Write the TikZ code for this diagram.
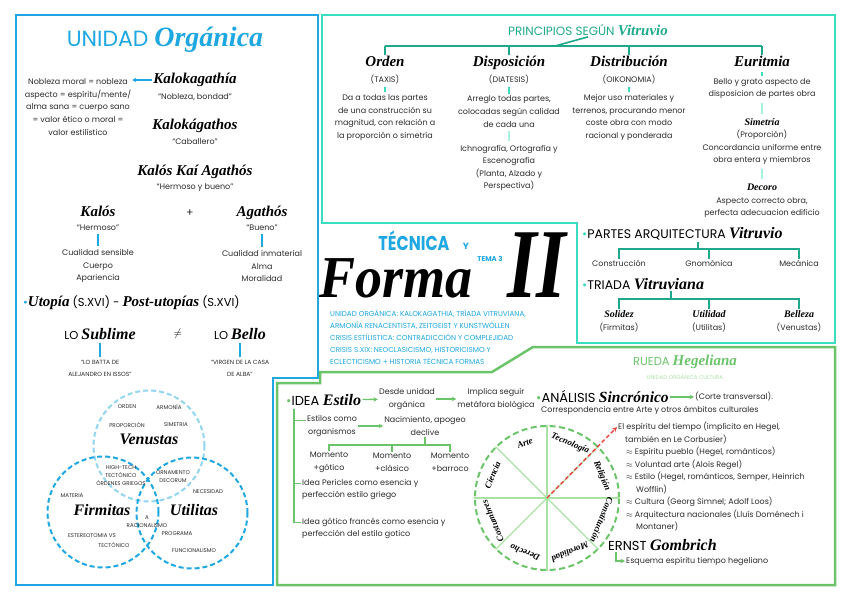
\documentclass[tikz,border=0pt]{standalone}
\usepackage{fontspec}
\setmainfont{Poppins}
\newfontfamily\brushfont{Liberation Serif}
\usetikzlibrary{arrows.meta,positioning}
\definecolor{azul}{HTML}{1EA7E1}
\definecolor{azulclaro}{HTML}{93D5F0}
\definecolor{turq}{HTML}{3ADDBF}
\definecolor{turqosc}{HTML}{1FA88B}
\definecolor{turqclaro}{HTML}{A6F0E2}
\definecolor{verde}{HTML}{6CC46A}
\definecolor{verdeclaro}{HTML}{A9E2A4}
\definecolor{rojo}{HTML}{E8413C}
\definecolor{gris}{HTML}{2B2B2B}
\newcommand{\cursiva}[2][14]{{\fontsize{#1}{#1}\brushfont\bfseries\itshape #2}}

\begin{document}
\begin{tikzpicture}[x=1pt, y=-1pt,
  txt/.style={font=\fontsize{8}{12.6}\selectfont, text=gris, align=center, inner sep=1pt},
  ttl/.style={font=\fontsize{15}{17}\brushfont\bfseries\itshape, inner sep=1pt, text height=10pt, text depth=3pt},
  sub/.style={font=\fontsize{10}{12}\brushfont\bfseries\itshape, inner sep=1pt},
  caps/.style={font=\fontsize{13}{15}\selectfont, inner sep=1pt, anchor=west},
  mini/.style={font=\fontsize{5.5}{8}\selectfont, text=gris, inner sep=0.5pt, align=center},
  forma/.style={font=\fontsize{54}{54}\brushfont\bfseries\itshape, inner sep=0pt},
  venn/.style={circle, dash pattern=on 5pt off 3pt, line width=2pt, minimum size=111pt, inner sep=0pt},
  bline/.style={azul, line width=1.6pt, shorten <=2pt, shorten >=2pt},
  tline/.style={turqosc, line width=1.6pt},
  tshort/.style={turq, line width=1.6pt, shorten <=1pt, shorten >=1pt},
  tlong/.style={turqclaro, line width=1.6pt, shorten <=3pt, shorten >=3pt},
  gline/.style={verde, line width=1.2pt},
  garr/.style={verde, line width=1.4pt, -{Stealth[length=4.5pt, width=4.5pt]}}]
  \useasboundingbox (0,0) rectangle (848,599);

  \draw[azul, line width=2.5pt] (16,15) -- (318,15) -- (318,378) -- (273,378) -- (273,585) -- (16,585) -- cycle;
  \draw[turq, line width=2.5pt] (322,15) -- (835,15) -- (835,343) -- (577,343) -- (577,223) -- (322,223) -- cycle;
  \draw[verde, line width=2.5pt] (277,585) -- (277,383) -- (320,383) -- (320,372) -- (492,372) -- (533,347) -- (835,347) -- (835,585) -- cycle;

  \node[font=\fontsize{22}{26}\selectfont, text=azul, inner sep=1pt] (unidad) at (165,40) {UNIDAD \cursiva[28]{Orgánica}};
  \node[ttl] (kalok) at (195,80) {Kalokagathía};
  \node[txt] (kalokq) at (195,97) {“Nobleza, bondad”};
  \node[txt] (nobleza) at (78,107) {Nobleza moral = nobleza\\aspecto = espíritu/mente/\\alma sana = cuerpo sano\\= valor ético o moral =\\valor estilístico};
  \draw[azul, line width=1.5pt, -{Stealth[length=4pt, width=4.5pt]}] (kalok.west) -- (kalok.west -| nobleza.east);
  \node[ttl] (kalokag) at (195,126) {Kalokágathos};
  \node[txt] (caball) at (195,142) {“Caballero”};
  \node[ttl] (kalkai) at (195,172) {Kalós Kaí Agathós};
  \node[txt] (hermb) at (195,188) {“Hermoso y bueno”};
  \node[ttl] (kalos) at (98,213) {Kalós};
  \node[txt] (kalosq) at (98,228) {“Hermoso”};
  \node[txt] (sensible) at (98,266) {Cualidad sensible\\Cuerpo\\Apariencia};
  \node[font=\fontsize{11}{12}\selectfont, text=gris] (mas) at (190,213) {+};
  \node[ttl] (agathos) at (262,213) {Agathós};
  \node[txt] (agathosq) at (262,228) {“Bueno”};
  \node[txt] (inmat) at (262,266) {Cualidad inmaterial\\Alma\\Moralidad};
  \draw[bline] (kalosq) -- (sensible);
  \draw[bline] (agathosq) -- (inmat);
  \node[caps, font=\fontsize{11.5}{13}\selectfont] (utopia) at (22,303) {\textcolor{azul}{\textbullet}\cursiva[15]{Utopía} (S.XVI) - \cursiva[15]{Post-utopías} (S.XVI)};
  \node[font=\fontsize{11.5}{13}\selectfont, inner sep=1pt] (sublime) at (100,334) {LO \cursiva[16]{Sublime}};
  \node[mini, font=\fontsize{6}{12}\selectfont] (batta) at (100,368) {“LO BATTA DE\\ALEJANDRO EN ISSOS”};
  \node[font=\fontsize{11}{13}\selectfont, inner sep=1pt] (distinto) at (178,334) {$\neq$};
  \node[font=\fontsize{11.5}{13}\selectfont, inner sep=1pt] (bello) at (240,334) {LO \cursiva[16]{Bello}};
  \node[mini, font=\fontsize{6}{12}\selectfont] (virgen) at (240,368) {“VIRGEN DE LA CASA\\DE ALBA”};
  \draw[bline] (sublime) -- (batta);
  \draw[bline] (bello) -- (virgen);

  \node[venn, draw=azulclaro] (venus) at (149,446) {};
  \node[venn, draw=azul] (firm) at (103,512) {};
  \node[venn, draw=azul] (util) at (192,513) {};
  \node[ttl, font=\fontsize{16}{17}\brushfont\bfseries\itshape] (venusl) at (149,441) {Venustas};
  \node[ttl, font=\fontsize{16}{17}\brushfont\bfseries\itshape] (firml) at (102,512) {Firmitas};
  \node[ttl, font=\fontsize{16}{17}\brushfont\bfseries\itshape] (utill) at (194,512) {Utilitas};
  \foreach \t/\x/\y [count=\i] in {ORDEN/127/407, ARMONÍA/169/407, PROPORCIÓN/127/425, SIMETRIA/176/425,
      HIGH-TECH\\TECTÓNICO\\ÓRDENES GRIEGOS/121/476, ORNAMENTO\\DECORUM/173/477,
      MATERIA/72/496, NECESIDAD/208/492, A\\RACIONALISMO/147/521.5, ESTEREOTOMIA VS/92/536,
      TECTÓNICO/114/545, PROGRAMA/177/534, FUNCIONALISMO/194/551}
    \node[mini] (vl\i) at (\x,\y) {\t};

  \node[font=\fontsize{12}{14}\selectfont, text=turqosc, inner sep=1pt] (princ) at (588,30) {PRINCIPIOS SEGÚN \cursiva[15]{Vitruvio}};
  \coordinate (pbar) at (555,46);
  \node[ttl] (orden) at (385,63) {Orden};
  \node[ttl] (dispos) at (509,63) {Disposición};
  \node[ttl] (distrib) at (629,63) {Distribución};
  \node[ttl] (eurit) at (762,63) {Euritmia};
  \draw[tline] (princ.south) -- (pbar);
  \draw[tline] (orden.north |- pbar) -- (eurit.north |- pbar);
  \foreach \n in {orden,dispos,distrib,eurit}
    \draw[tline] (\n.north) -- (\n.north |- pbar);
  \node[txt] (taxis) at (385,80) {(TAXIS)};
  \node[txt] (taxisd) at (385,117.5) {Da a todas las partes\\de una construcción su\\magnitud, con relación a\\la proporción o simetría};
  \node[txt] (diat) at (509,80) {(DIATESIS)};
  \node[txt] (diatd) at (509,111.5) {Arreglo todas partes,\\colocadas según calidad\\de cada una};
  \node[txt] (ichno) at (509,168) {Ichnografía, Ortografía y\\Escenografía\\(Planta, Alzado y\\Perspectiva)};
  \node[txt] (oiko) at (629,80) {(OIKONOMIA)};
  \node[txt] (oikod) at (629,117.5) {Mejor uso materiales y\\terrenos, procurando menor\\coste obra con modo\\racional y ponderada};
  \draw[tshort] (taxis) -- (taxisd);
  \draw[tshort] (diat) -- (diatd);
  \draw[tshort] (oiko) -- (oikod);
  \draw[tlong] (diatd) -- (ichno);
  \node[txt] (bellog) at (762,88.5) {Bello y grato aspecto de\\disposicion de partes obra};
  \node[sub] (simet) at (762,122) {Simetría};
  \node[txt] (concord) at (762,147.5) {(Proporción)\\Concordancia uniforme entre\\obra entera y miembros};
  \node[sub] (decoro) at (762,187) {Decoro};
  \node[txt] (aspecto) at (762,207.5) {Aspecto correcto obra,\\perfecta adecuacion edificio};
  \draw[tshort] (eurit) -- (bellog);
  \draw[tlong] (bellog) -- (simet);
  \draw[tlong] (concord) -- (decoro);

  \node[caps, font=\fontsize{12.5}{14}\selectfont] (partes) at (581,234) {\textcolor{turq}{\textbullet}PARTES ARQUITECTURA \cursiva[16]{Vitruvio}};
  \coordinate (pastem) at (698,249);
  \node[txt] (constr) at (619,263) {Construcción};
  \node[txt] (gnomo) at (709,263) {Gnomónica};
  \node[txt] (mecan) at (799,263) {Mecánica};
  \draw[tline] (partes.south -| pastem) -- (pastem);
  \draw[tline] (constr.north) |- (pastem) -| (mecan.north);
  \draw[tline] (gnomo.north) -- (gnomo.north |- pastem);
  \node[caps, font=\fontsize{12.5}{14}\selectfont] (triada) at (581,284) {\textcolor{turq}{\textbullet}TRIADA \cursiva[16]{Vitruviana}};
  \coordinate (trstem) at (671,299);
  \node[sub] (solidez) at (619,314) {Solidez};
  \node[sub] (utilidad) at (709,314) {Utilidad};
  \node[sub] (belleza) at (799,314) {Belleza};
  \node[txt] (firmq) at (619,328) {(Firmitas)};
  \node[txt] (utilq) at (709,328) {(Utilitas)};
  \node[txt] (venusq) at (799,328) {(Venustas)};
  \draw[tline] (triada.south -| trstem) -- (trstem);
  \draw[tline] (solidez.north) |- (trstem) -| (belleza.north);
  \draw[tline] (utilidad.north) -- (utilidad.north |- trstem);

  \node[font=\fontsize{16}{18}\selectfont\bfseries, text=azul, inner sep=0pt] (tecnica) at (414,241) {\scalebox{1}[1.25]{TÉCNICA}};
  \node[font=\fontsize{9}{10}\selectfont\bfseries, text=azul, inner sep=0pt] (ytxt) at (466,246) {Y};
  \node[font=\fontsize{7}{8}\selectfont\bfseries, text=azul, inner sep=0pt] (tema) at (490,259) {TEMA 3};
  \node[forma, text height=34pt, text depth=2pt] (forma) at (396,281) {\scalebox{1}[1.1]{Forma}};
  \node[forma, font=\fontsize{76}{76}\brushfont\bfseries\itshape] (dos) at (537,265) {\scalebox{1}[1.3]{II}};
  \node[anchor=north west, align=left, font=\fontsize{7.2}{11.8}\selectfont, text=azul, inner sep=0pt] (resumen) at (330,310)
    {UNIDAD ORGÁNICA: KALOKAGATHIA, TRÍADA VITRUVIANA,\\ARMONÍA RENACENTISTA, ZEITGEIST Y KUNSTWÖLLEN\\CRISIS ESTÍLISTICA: CONTRADICCIÓN Y COMPLEJIDAD\\CRISIS S.XIX: NEOCLASICISMO, HISTORICISMO Y\\ECLECTICISMO + HISTORIA TÉCNICA FORMAS};

  \node[font=\fontsize{11.5}{13}\selectfont, text=verde, inner sep=1pt] (rueda) at (685,362) {RUEDA \cursiva[15]{Hegeliana}};
  \node[font=\fontsize{5.5}{7}\selectfont, text=verdeclaro, inner sep=1pt] (ruedasub) at (685,377) {UNIDAD ORGÁNICA CULTURA};

  \node[caps] (idea) at (285,400) {\textcolor{verde}{\textbullet}IDEA \cursiva[16]{Estilo}};
  \node[txt] (desde) at (407,399) {Desde unidad\\orgánica};
  \node[txt] (implica) at (496,399) {Implica seguir\\metáfora biológica};
  \draw[garr] (idea) -- (desde);
  \draw[garr] (desde) -- (implica);
  \coordinate (ispine) at (294,409);
  \node[txt] (estilos) at (332,426) {Estilos como\\organismos};
  \node[txt] (nacim) at (425,426) {Nacimiento, apogeo\\declive};
  \draw[garr] (estilos) -- (nacim);
  \node[txt, align=left, anchor=west] (pericles) at (301,489.5) {Idea Pericles como esencia y\\perfección estilo griego};
  \node[txt, align=left, anchor=west] (gotico) at (301,528.5) {Idea gótico francés como esencia y\\perfección del estilo gotico};
  \foreach \n in {estilos,pericles,gotico}
    \draw[gline] ([yshift=-6pt]\n.north west) -| (ispine);
  \coordinate (mbar) at (425,445);
  \node[txt] (mgot) at (329,462.5) {Momento\\+gótico};
  \node[txt] (mcla) at (392,462.5) {Momento\\+clásico};
  \node[txt] (mbarr) at (450,462.5) {Momento\\+barroco};
  \draw[gline] (nacim.south) -- (mbar);
  \draw[gline] (mgot.north) |- (mbar) -| (mbarr.north);
  \draw[gline] (mcla.north) -- (mcla.north |- mbar);

  \node[caps] (analisis) at (535,397) {\textcolor{verde}{\textbullet}ANÁLISIS \cursiva[15.5]{Sincrónico}};
  \node[txt, anchor=west] (corte) at (694,397) {(Corte transversal).};
  \draw[garr] (analisis) -- (corte);
  \node[txt, anchor=west] (corresp) at (540,410) {Correspondencia entre Arte y otros ámbitos culturales};

  \coordinate (hub) at (547,498);
  \node[circle, draw=verde, dash pattern=on 6pt off 3.5pt, line width=2pt, minimum size=144pt, inner sep=0pt] (ruedac) at (hub) {};
  \foreach \a in {0,45,...,315}
    \draw[verdeclaro, line width=1.3pt] (hub) -- (ruedac.\a);
  \foreach \t/\a [count=\i] in {Arte/112, Tecnología/67, Religión/22, Constitución/-22, Moralidad/-67, Derecho/-112, Costumbres/-157, Ciencia/157}
    \path (hub) -- (ruedac.\a) node[pos=0.81, rotate=\a-90, font=\fontsize{9}{10}\brushfont\bfseries\itshape, inner sep=0pt] (sec\i) {\t};

  \node[txt, align=left, anchor=north west, font=\fontsize{8}{12.5}\selectfont] (zeit) at (617,421)
    {El espíritu del tiempo (implícito en Hegel,\\\hspace*{7pt}también en Le Corbusier)\\
     \hspace*{8pt}\(\approx\) Espíritu pueblo (Hegel, románticos)\\
     \hspace*{8pt}\(\approx\) Voluntad arte (Alois Regel)\\
     \hspace*{8pt}\(\approx\) Estilo (Hegel, románticos, Semper, Heinrich\\
     \hspace*{18pt}Wofflin)\\
     \hspace*{8pt}\(\approx\) Cultura (Georg Simnel; Adolf Loos)\\
     \hspace*{8pt}\(\approx\) Arquitectura nacionales (Lluís Doménech i\\
     \hspace*{18pt}Montaner)};
  \draw[rojo, line width=1.4pt, dash pattern=on 4pt off 2.5pt, -{Stealth[length=5pt, width=5pt]}] (hub) -- ([yshift=-6pt]zeit.north west);

  \node[caps] (ernst) at (607,545) {ERNST \cursiva[16]{Gombrich}};
  \node[txt, anchor=west] (esquema) at (625,561) {Esquema espíritu tiempo hegeliano};
  \draw[garr] ([xshift=9pt]ernst.south west) |- (esquema.west);
\end{tikzpicture}
\end{document}
